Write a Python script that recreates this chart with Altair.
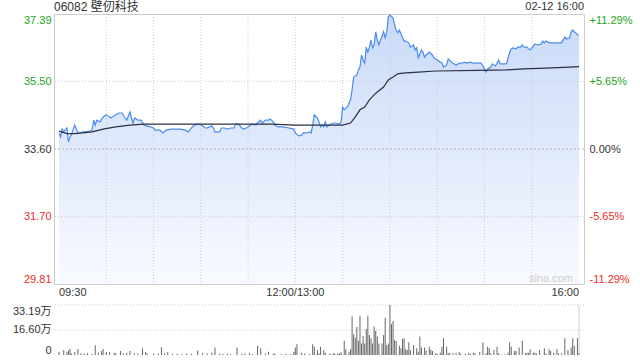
import altair as alt
import pandas as pd

# ---------------- data ----------------
price_minutes = [0, 1, 2, 3, 5, 6, 7, 8, 10, 12, 13, 15, 17, 20, 21, 22, 23, 24, 26, 28,
                 30, 31, 33, 36, 38, 40, 42, 43, 45, 46, 47, 48, 50, 52, 54, 58, 60, 61, 64, 66,
                 68, 71, 74, 77, 80, 82, 84, 86, 88, 89, 91, 93, 94, 97, 98, 99, 102, 103, 105, 107,
                 109, 111, 112, 114, 116, 117, 119, 121, 122, 125, 126, 128, 129, 131, 133, 134, 136, 137, 139, 142,
                 146, 149, 150, 152, 154, 155, 157, 159, 160, 161, 162, 164, 165, 166, 167, 168, 169, 170, 171, 174,
                 175, 178, 179, 180, 181, 183, 185, 186, 187, 189, 190, 191, 192, 193, 194, 195, 196, 197, 198, 199,
                 200, 201, 202, 203, 204, 206, 207, 208, 209, 210, 212, 213, 214, 215, 216, 218, 219, 220, 222, 223,
                 225, 226, 227, 228, 230, 231, 232, 233, 235, 237, 238, 240, 243, 244, 246, 247, 249, 250, 252, 254,
                 256, 257, 259, 261, 263, 266, 268, 270, 271, 272, 274, 275, 277, 278, 279, 280, 284, 286, 287, 288,
                 290, 291, 293, 294, 295, 297, 298, 299, 301, 302, 304, 306, 307, 308, 309, 311, 312, 315, 317, 319,
                 321, 322, 324, 325, 326, 327, 328, 329, 330]
price_values = [34.05, 33.94, 34.16, 34.08, 34.19, 33.80, 33.94, 34.02, 34.27, 34.05, 34.05, 34.08, 34.08, 34.11, 34.13, 34.41, 34.27, 34.41, 34.36, 34.50,
                34.56, 34.53, 34.47, 34.56, 34.61, 34.61, 34.47, 34.41, 34.64, 34.47, 34.33, 34.47, 34.41, 34.41, 34.27, 34.22, 34.19, 34.13, 34.13, 34.05,
                34.13, 34.16, 34.16, 34.16, 34.13, 34.08, 34.19, 34.27, 34.30, 34.30, 34.25, 34.19, 34.19, 34.25, 34.19, 34.08, 34.08, 34.19, 34.19, 34.16,
                34.19, 34.19, 34.30, 34.30, 34.19, 34.16, 34.19, 34.25, 34.30, 34.27, 34.33, 34.41, 34.33, 34.41, 34.41, 34.44, 34.36, 34.27, 34.22, 34.22,
                34.19, 34.16, 34.05, 33.97, 33.99, 34.05, 34.05, 34.08, 34.05, 34.27, 34.56, 34.47, 34.36, 34.22, 34.27, 34.22, 34.36, 34.22, 34.27, 34.33,
                34.33, 34.30, 34.36, 34.78, 34.70, 34.78, 34.98, 35.26, 35.62, 35.68, 35.82, 35.90, 36.24, 36.10, 36.01, 36.46, 36.32, 36.46, 36.66, 36.44,
                36.52, 36.89, 36.66, 36.52, 36.66, 36.89, 36.72, 36.89, 37.31, 37.36, 37.28, 37.08, 36.94, 36.86, 36.94, 36.74, 36.63, 36.63, 36.58, 36.46,
                36.52, 36.38, 36.44, 36.16, 36.38, 36.32, 36.18, 36.24, 36.32, 36.24, 36.16, 36.10, 36.01, 35.90, 35.96, 36.13, 36.04, 36.01, 35.96, 36.01,
                36.01, 36.04, 36.01, 36.04, 36.01, 36.01, 36.01, 35.85, 35.76, 35.85, 35.90, 35.99, 35.93, 36.01, 36.10, 35.99, 35.99, 36.32, 36.41, 36.44,
                36.41, 36.46, 36.46, 36.52, 36.46, 36.46, 36.41, 36.38, 36.49, 36.55, 36.52, 36.55, 36.63, 36.58, 36.63, 36.58, 36.58, 36.58, 36.58, 36.58,
                36.74, 36.69, 36.72, 36.89, 36.94, 36.89, 36.86, 36.80, 36.80]

avg_minutes = [0, 5, 10, 15, 21, 28, 36, 45, 54, 100, 135, 150, 180, 185, 188, 191, 194, 197, 200, 202,
               206, 209, 212, 215, 218, 228, 239, 266, 284, 295, 309, 324, 330]
avg_values = [34.10, 34.03, 34.03, 34.05, 34.08, 34.16, 34.22, 34.27, 34.30, 34.30, 34.30, 34.27, 34.27, 34.33, 34.50, 34.70, 34.78, 34.98, 35.12, 35.20,
              35.34, 35.54, 35.62, 35.71, 35.73, 35.76, 35.79, 35.81, 35.82, 35.85, 35.87, 35.90, 35.91]

vol_minutes = [0, 3, 5, 6, 7, 8, 10, 12, 14, 16, 18, 21, 23, 25, 27, 28, 30, 32, 35, 36,
               39, 41, 43, 45, 48, 50, 53, 55, 56, 60, 63, 65, 67, 69, 72, 75, 78, 81, 84, 88,
               91, 94, 97, 99, 102, 104, 107, 109, 113, 116, 118, 121, 123, 126, 128, 131, 133, 136, 137, 141,
               144, 147, 149, 150, 151, 154, 156, 159, 161, 162, 164, 165, 166, 168, 169, 172, 174, 175, 177, 178,
               179, 181, 182, 184, 185, 186, 187, 188, 189, 190, 191, 192, 193, 194, 195, 196, 197, 198, 199, 200,
               201, 202, 203, 205, 206, 207, 208, 209, 210, 211, 212, 213, 214, 216, 217, 218, 219, 220, 221, 222,
               223, 225, 227, 228, 229, 230, 232, 233, 235, 236, 237, 239, 240, 242, 243, 244, 246, 247, 248, 250,
               252, 254, 255, 258, 260, 261, 263, 264, 267, 269, 271, 272, 273, 274, 276, 278, 279, 281, 283, 285,
               286, 287, 289, 290, 292, 294, 296, 297, 298, 299, 301, 302, 303, 305, 308, 309, 311, 312, 314, 316,
               317, 319, 321, 323, 325, 326, 327, 329, 330]
vol_values = [2.2, 3.3, 2.0, 3.0, 4.0, 1.0, 2.0, 4.0, 1.0, 1.0, 1.2, 0.8, 6.4, 1.5, 2.6, 4.0, 2.0, 1.8, 1.5, 1.2,
              2.6, 1.0, 1.5, 2.6, 1.0, 1.0, 4.4, 2.0, 1.0, 0.8, 1.0, 5.1, 1.0, 1.8, 0.8, 1.0, 0.7, 1.0, 0.8, 2.9,
              1.2, 1.0, 1.5, 4.9, 1.0, 0.8, 1.0, 0.6, 4.9, 0.8, 1.0, 1.5, 0.7, 6.2, 4.4, 1.0, 2.2, 0.8, 1.0, 0.6,
              0.8, 0.5, 2.2, 4.9, 7.1, 1.5, 1.0, 0.6, 7.1, 5.5, 3.3, 1.2, 5.5, 3.3, 1.5, 1.0, 1.2, 1.0, 1.2, 1.0,
              1.8, 9.5, 3.8, 2.2, 4.0, 25.5, 13.7, 11.5, 18.6, 9.5, 26.1, 7.7, 12.6, 7.7, 17.3, 26.1, 13.3, 11.1, 7.7, 19.0,
              16.0, 12.2, 7.7, 7.7, 13.3, 24.8, 6.6, 7.7, 33.19, 20.4, 22.6, 10.0, 9.3, 6.2, 4.4, 10.6, 11.1, 3.8, 3.3, 8.4,
              3.3, 6.6, 4.4, 2.2, 12.2, 4.9, 4.9, 3.0, 5.5, 3.5, 2.6, 1.2, 0.8, 1.5, 5.5, 11.1, 5.5, 1.2, 1.5, 1.2,
              1.5, 2.0, 0.8, 0.8, 1.5, 0.8, 1.5, 1.2, 2.0, 8.4, 1.2, 5.5, 4.4, 1.2, 3.3, 5.5, 1.2, 0.3, 0.3, 1.5,
              8.4, 5.5, 2.6, 2.6, 4.9, 9.5, 1.2, 1.5, 1.5, 3.8, 1.5, 1.5, 1.0, 3.3, 4.4, 1.0, 3.8, 2.6, 1.5, 4.0,
              1.0, 1.2, 11.1, 3.3, 4.9, 11.1, 6.2, 11.1, 1.0]

prev_close = 33.60
price_ticks = [29.81, 31.70, 33.60, 35.50, 37.39]
pct_labels = ["-11.29%", "-5.65%", "0.00%", "+5.65%", "+11.29%"]
time_ticks = [0, 150, 330]
time_labels = ["09:30", "12:00/13:00", "16:00"]
time_grid = [30, 60, 90, 120, 150, 180, 210, 240, 270, 300]
vol_ticks = [0, 16.60, 33.19]
vol_labels = ["0", "16.60万", "33.19万"]
title_text = "06082 壁仞科技"
stamp_text = "02-12 16:00"
watermark_text = "sina.com"

# ---------------- styling ----------------
W, H = 530, 270
VOL_TOP, VOL_BOTTOM = 291, 341
FONT = "Liberation Sans, Arial, Noto Sans CJK SC"
GREEN, RED, DARK = "#1ea51e", "#ee2b2b", "#333333"


def label_expr(ticks, labels):
    parts = [f"abs(datum.value - {t}) < 0.001 ? '{l}'" for t, l in zip(ticks, labels)]
    return " : ".join(parts) + " : ''"


color_expr = (f"datum.value > {prev_close + 0.05} ? '{GREEN}' : "
              f"datum.value < {prev_close - 0.05} ? '{RED}' : '{DARK}'")

price_df = pd.DataFrame({"m": price_minutes, "p": price_values})
avg_df = pd.DataFrame({"m": avg_minutes, "p": avg_values})
vol_df = pd.DataFrame({"m": vol_minutes, "v": vol_values})
time_df = pd.DataFrame({"m": time_ticks, "lab": time_labels})

x_scale = alt.Scale(domain=[time_ticks[0], time_ticks[-1]], nice=False, zero=False)
p_scale = alt.Scale(domain=[price_ticks[0], price_ticks[-1]], nice=False, zero=False)
v_scale = alt.Scale(domain=[vol_ticks[0], vol_ticks[-1]], range=[VOL_BOTTOM, VOL_TOP], nice=False)

left_axis = alt.Axis(values=price_ticks, format=".2f", orient="left", ticks=False, tickSize=0,
                     domain=False, grid=False, labelFlush=True, labelPadding=3, labelFontSize=11,
                     labelFont=FONT, labelColor={"expr": color_expr}, title=None, labelOverlap=False)
right_axis = alt.Axis(values=price_ticks, labelExpr=label_expr(price_ticks, pct_labels), orient="right",
                      ticks=False, tickSize=0, domain=False, grid=False, labelFlush=True, labelPadding=5,
                      labelFontSize=11, labelFont=FONT, labelColor={"expr": color_expr}, title=None,
                      labelOverlap=False)
vol_axis = alt.Axis(values=vol_ticks, labelExpr=label_expr(vol_ticks, vol_labels), orient="left",
                    ticks=False, tickSize=0, domain=False, grid=False, labelFlush=True, labelPadding=3,
                    labelFontSize=11, labelFont=FONT, labelColor=DARK, title=None, labelOverlap=False)

gradient = alt.Gradient(gradient="linear",
                        stops=[alt.GradientStop(color="#c9daf8", offset=0),
                               alt.GradientStop(color="#f8faff", offset=1)],
                        x1=1, x2=1, y1=0, y2=1)

X = lambda f: alt.X(f, scale=x_scale, axis=None)

area = alt.Chart(price_df).mark_area(color=gradient, interpolate="linear").encode(
    x=X("m:Q"),
    y=alt.Y("p:Q", scale=p_scale, axis=left_axis),
    y2=alt.Y2Datum(price_ticks[0]),
)

hgrid_levels = [t for t in price_ticks[1:-1] if abs(t - prev_close) > 0.001]
hgrid = alt.Chart(pd.DataFrame({"g": hgrid_levels})).mark_rule(
    color="#cccccc", strokeDash=[1, 2], strokeWidth=1).encode(
    y=alt.Y("g:Q", scale=p_scale, axis=None))

vgrid = alt.Chart(pd.DataFrame({"t": time_grid})).mark_rule(
    color="#cccccc", strokeDash=[1, 2], strokeWidth=1).encode(x=X("t:Q"))

base_rule = alt.Chart(pd.DataFrame({"pc": [prev_close]})).mark_rule(
    color="#b5b5b5", strokeDash=[2, 2], strokeWidth=1).encode(
    y=alt.Y("pc:Q", scale=p_scale, axis=right_axis))

price_line = alt.Chart(price_df).mark_line(color="#4a8bf0", strokeWidth=1.2).encode(
    x=X("m:Q"), y=alt.Y("p:Q", scale=p_scale, axis=None))

avg_line = alt.Chart(avg_df).mark_line(color="#2b3140", strokeWidth=1.2).encode(
    x=X("m:Q"), y=alt.Y("p:Q", scale=p_scale, axis=None))

vol_grid = alt.Chart(pd.DataFrame({"g": vol_ticks[1:]})).mark_rule(
    color="#cccccc", strokeDash=[1, 2], strokeWidth=1).encode(
    y=alt.Y("g:Q", scale=v_scale, axis=None))

vol_border = alt.Chart(pd.DataFrame({"m": [time_ticks[-1]], "lo": [vol_ticks[0]], "hi": [vol_ticks[-1]]})).mark_rule(
    color="#cccccc", strokeWidth=1).encode(
    x=X("m:Q"),
    y=alt.Y("hi:Q", scale=v_scale, axis=None),
    y2="lo:Q")

vol_bars = alt.Chart(vol_df).mark_bar(color="#666666", size=1).encode(
    x=X("m:Q"),
    y=alt.Y("v:Q", scale=v_scale, axis=vol_axis, stack=None))

# time labels under the price panel (first flush left, middle centred, last flush right)
def time_text(idx, align):
    return alt.Chart(time_df.iloc[[idx]]).mark_text(
        align=align, baseline="top", fontSize=11, color=DARK, font=FONT, dy=0).encode(
        x=X("m:Q"), y=alt.value(H + 3), text="lab:N")

t_first = time_text(0, "left")
t_mid = time_text(1, "center")
t_last = time_text(2, "right")

title = alt.Chart(pd.DataFrame({"t": [title_text]})).mark_text(
    align="left", baseline="middle", fontSize=12, color=DARK, font=FONT).encode(
    text="t:N", x=alt.value(0), y=alt.value(-7))

stamp = alt.Chart(pd.DataFrame({"t": [stamp_text]})).mark_text(
    align="right", baseline="middle", fontSize=11, color=DARK, font=FONT).encode(
    text="t:N", x=alt.value(W), y=alt.value(-7))

watermark = alt.Chart(pd.DataFrame({"t": [watermark_text]})).mark_text(
    align="right", baseline="middle", fontSize=11, color="#cccccc", font=FONT).encode(
    text="t:N", x=alt.value(W - 11), y=alt.value(H - 5))

chart = alt.layer(
    area, hgrid, vgrid, base_rule, price_line, avg_line,
    vol_grid, vol_border, vol_bars, t_first, t_mid, t_last, title, stamp, watermark
).resolve_scale(y="independent").resolve_axis(y="independent").properties(
    width=W, height=H,
    autosize=alt.AutoSizeParams(type="none"),
    padding={"left": 54, "top": 14, "right": 56, "bottom": 76},
    background="white",
).configure_view(stroke="#cccccc", strokeWidth=1).configure_axis(labelFont=FONT)

chart.save("out.html", embed_options={"renderer": "svg", "actions": False})
